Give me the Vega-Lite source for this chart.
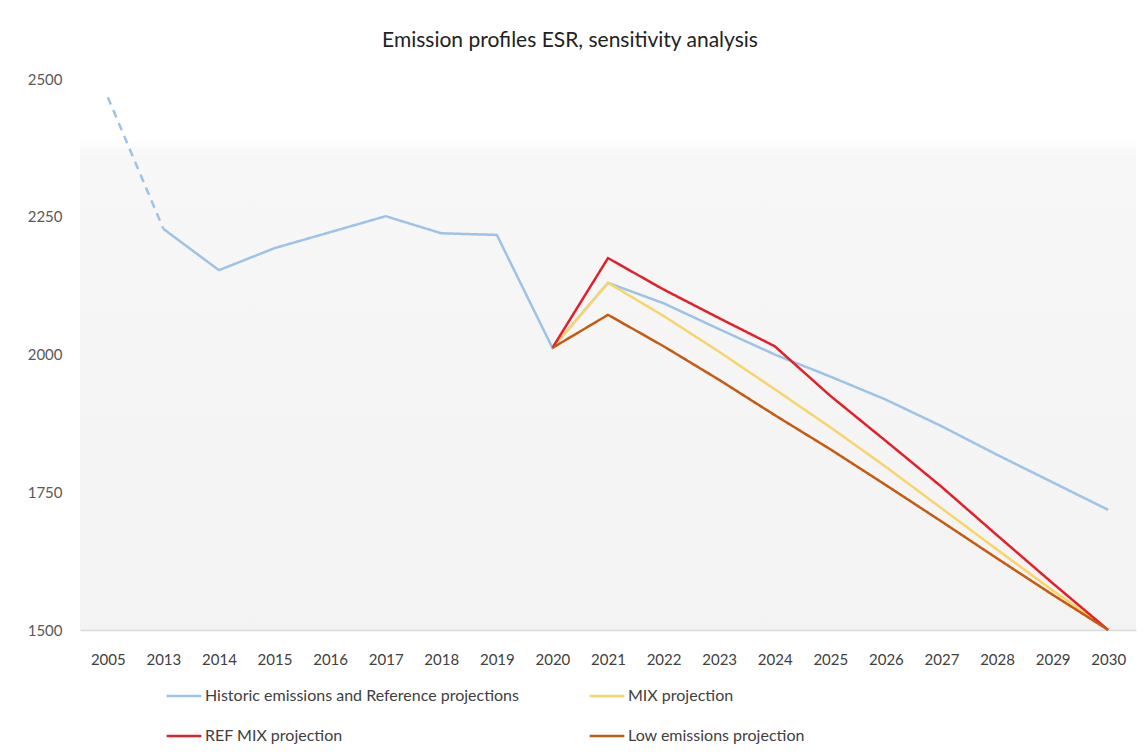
{
  "$schema": "https://vega.github.io/schema/vega-lite/v6.json",
  "autosize": {"type": "none"},
  "padding": {"left": 80, "top": 79, "right": 8, "bottom": 126},
  "width": 1056,
  "height": 551,
  "background": "white",
  "config": {
    "font": "Lato",
    "view": {"stroke": null, "fill": {"gradient": "linear", "x1": 0, "y1": 0, "x2": 0, "y2": 1, "stops": [{"offset": 0, "color": "#ffffff"}, {"offset": 0.11, "color": "#ffffff"}, {"offset": 0.14, "color": "#f7f7f7"}, {"offset": 1, "color": "#f3f3f3"}]}}
  },
  "title": {"text": "Emission profiles ESR, sensitivity analysis", "fontSize": 21, "fontWeight": "normal", "color": "#222222", "anchor": "middle", "frame": "group", "dx": -38, "offset": 21},
  "data": {"values": [
    {"year": "2005", "value": 2467, "series": "Historic emissions and Reference projections", "part": "dash"},
    {"year": "2013", "value": 2228, "series": "Historic emissions and Reference projections", "part": "dash"},
    {"year": "2013", "value": 2228, "series": "Historic emissions and Reference projections", "part": "solid"},
    {"year": "2014", "value": 2153, "series": "Historic emissions and Reference projections", "part": "solid"},
    {"year": "2015", "value": 2193, "series": "Historic emissions and Reference projections", "part": "solid"},
    {"year": "2016", "value": 2222, "series": "Historic emissions and Reference projections", "part": "solid"},
    {"year": "2017", "value": 2251, "series": "Historic emissions and Reference projections", "part": "solid"},
    {"year": "2018", "value": 2220, "series": "Historic emissions and Reference projections", "part": "solid"},
    {"year": "2019", "value": 2217, "series": "Historic emissions and Reference projections", "part": "solid"},
    {"year": "2020", "value": 2012, "series": "Historic emissions and Reference projections", "part": "solid"},
    {"year": "2021", "value": 2130, "series": "Historic emissions and Reference projections", "part": "solid"},
    {"year": "2022", "value": 2093, "series": "Historic emissions and Reference projections", "part": "solid"},
    {"year": "2023", "value": 2046, "series": "Historic emissions and Reference projections", "part": "solid"},
    {"year": "2024", "value": 2000, "series": "Historic emissions and Reference projections", "part": "solid"},
    {"year": "2025", "value": 1960, "series": "Historic emissions and Reference projections", "part": "solid"},
    {"year": "2026", "value": 1918, "series": "Historic emissions and Reference projections", "part": "solid"},
    {"year": "2027", "value": 1870, "series": "Historic emissions and Reference projections", "part": "solid"},
    {"year": "2028", "value": 1818, "series": "Historic emissions and Reference projections", "part": "solid"},
    {"year": "2029", "value": 1768, "series": "Historic emissions and Reference projections", "part": "solid"},
    {"year": "2030", "value": 1718, "series": "Historic emissions and Reference projections", "part": "solid"},
    {"year": "2020", "value": 2012, "series": "MIX projection", "part": "solid"},
    {"year": "2021", "value": 2130, "series": "MIX projection", "part": "solid"},
    {"year": "2022", "value": 2070, "series": "MIX projection", "part": "solid"},
    {"year": "2023", "value": 2005, "series": "MIX projection", "part": "solid"},
    {"year": "2024", "value": 1937, "series": "MIX projection", "part": "solid"},
    {"year": "2025", "value": 1868, "series": "MIX projection", "part": "solid"},
    {"year": "2026", "value": 1796, "series": "MIX projection", "part": "solid"},
    {"year": "2027", "value": 1721, "series": "MIX projection", "part": "solid"},
    {"year": "2028", "value": 1646, "series": "MIX projection", "part": "solid"},
    {"year": "2029", "value": 1572, "series": "MIX projection", "part": "solid"},
    {"year": "2030", "value": 1500, "series": "MIX projection", "part": "solid"},
    {"year": "2020", "value": 2012, "series": "REF MIX projection", "part": "solid"},
    {"year": "2021", "value": 2175, "series": "REF MIX projection", "part": "solid"},
    {"year": "2022", "value": 2118, "series": "REF MIX projection", "part": "solid"},
    {"year": "2023", "value": 2066, "series": "REF MIX projection", "part": "solid"},
    {"year": "2024", "value": 2015, "series": "REF MIX projection", "part": "solid"},
    {"year": "2025", "value": 1925, "series": "REF MIX projection", "part": "solid"},
    {"year": "2026", "value": 1843, "series": "REF MIX projection", "part": "solid"},
    {"year": "2027", "value": 1760, "series": "REF MIX projection", "part": "solid"},
    {"year": "2028", "value": 1672, "series": "REF MIX projection", "part": "solid"},
    {"year": "2029", "value": 1585, "series": "REF MIX projection", "part": "solid"},
    {"year": "2030", "value": 1500, "series": "REF MIX projection", "part": "solid"},
    {"year": "2020", "value": 2012, "series": "Low emissions projection", "part": "solid"},
    {"year": "2021", "value": 2072, "series": "Low emissions projection", "part": "solid"},
    {"year": "2022", "value": 2015, "series": "Low emissions projection", "part": "solid"},
    {"year": "2023", "value": 1954, "series": "Low emissions projection", "part": "solid"},
    {"year": "2024", "value": 1890, "series": "Low emissions projection", "part": "solid"},
    {"year": "2025", "value": 1828, "series": "Low emissions projection", "part": "solid"},
    {"year": "2026", "value": 1763, "series": "Low emissions projection", "part": "solid"},
    {"year": "2027", "value": 1697, "series": "Low emissions projection", "part": "solid"},
    {"year": "2028", "value": 1630, "series": "Low emissions projection", "part": "solid"},
    {"year": "2029", "value": 1564, "series": "Low emissions projection", "part": "solid"},
    {"year": "2030", "value": 1500, "series": "Low emissions projection", "part": "solid"}
  ]},
  "mark": {"type": "line", "strokeWidth": 2.5, "strokeCap": "butt"},
  "encoding": {
    "x": {
      "field": "year", "type": "ordinal", "title": null,
      "scale": {"type": "point", "padding": 0.5},
      "axis": {"labelAngle": 0, "ticks": false, "domainColor": "#d9d9d9", "domainWidth": 1.5, "labelFontSize": 15, "labelColor": "#404040", "labelPadding": 22, "grid": false}
    },
    "y": {
      "field": "value", "type": "quantitative", "title": null,
      "scale": {"domain": [1500, 2500], "nice": false, "zero": false},
      "axis": {"values": [1500, 1750, 2000, 2250, 2500], "format": "d", "ticks": false, "domain": false, "grid": false, "labelFontSize": 15, "labelColor": "#595959", "labelPadding": 18}
    },
    "color": {
      "field": "series", "type": "nominal", "title": null,
      "scale": {"domain": ["Historic emissions and Reference projections", "MIX projection", "REF MIX projection", "Low emissions projection"], "range": ["#9dc3e6", "#f7d56a", "#e3202a", "#c55a11"]},
      "legend": {"orient": "none", "legendX": 85, "legendY": 598, "direction": "horizontal", "columns": 2, "symbolType": "stroke", "symbolSize": 1200, "symbolStrokeWidth": 2.5, "labelFontSize": 16, "labelColor": "#404040", "labelOffset": 2, "rowPadding": 13, "columnPadding": 65, "labelLimit": 500}
    },
    "strokeDash": {
      "field": "part", "type": "nominal", "legend": null,
      "scale": {"domain": ["solid", "dash"], "range": [[1, 0], [8, 6]]}
    },
    "detail": {"field": "part"}
  }
}
